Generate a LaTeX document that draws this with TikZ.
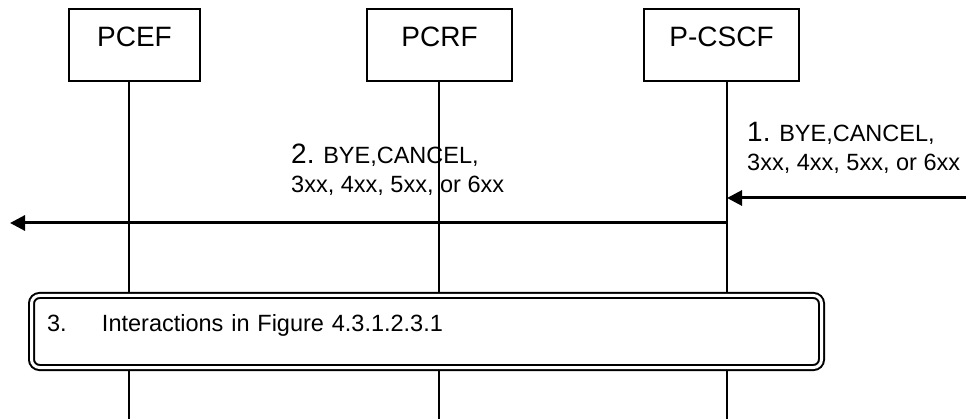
\documentclass[tikz,border=0pt]{standalone}
\usepackage{fontspec}
\setmainfont{Liberation Sans}
\usetikzlibrary{arrows.meta}

\begin{document}
\begin{tikzpicture}[x=1pt,y=-1pt,
  entity/.style={draw,line width=1.3pt,minimum height=72pt,inner sep=0pt,
    text height=38pt,text depth=34pt,font=\fontsize{28}{30}\selectfont},
  life/.style={line width=1.3pt},
  msg/.style={line width=3pt,-{Triangle[length=15pt,width=15pt]}},
  lbl/.style={anchor=base west,align=left,inner sep=0pt,font=\fontsize{23.5}{29}\selectfont},
  procbox/.style={draw,double,double distance=3pt,line width=2pt,rounded corners=8pt,
    fill=white,minimum width=790pt,minimum height=72pt,text width=759pt,align=left,
    inner xsep=15.5pt,inner ysep=4pt,text height=32.5pt,text depth=31.5pt,
    font=\fontsize{23.5}{28}\selectfont}]
\path[use as bounding box] (0,0) rectangle (966,419);
% entities
\node[entity,minimum width=131pt] (pcef) at (134.5,45) {PCEF};
\node[entity,minimum width=145pt] (pcrf) at (439.5,45) {PCRF};
\node[entity,minimum width=155pt] (pcscf) at (721.5,45) {P-CSCF};
% lifelines
\coordinate (pcefL) at (129,81);
\coordinate (pcrfL) at (439,81);
\coordinate (pcscfL) at (727,81);
\draw[life] (pcefL) -- ++(0,338);
\draw[life] (pcrfL) -- ++(0,338);
\draw[life] (pcscfL) -- ++(0,338);
% step 3
\node[procbox] (interact) at (426.5,331.5) {\makebox[55pt][l]{3.}Interactions in Figure 4.3.1.2.3.1};
% messages
\coordinate (in1) at (966,198);
\coordinate (out2) at (10,223);
\draw[msg] (in1) -- (in1 -| pcscfL);
\draw[msg] (out2 -| pcscfL) -- (out2);
\node[lbl] (bye1) at (747,171) {{\fontsize{28}{29}\selectfont 1.} BYE,CANCEL,\\3xx, 4xx, 5xx, or 6xx};
\node[lbl] (bye2) at (291,193) {{\fontsize{28}{29}\selectfont 2.} BYE,CANCEL,\\3xx, 4xx, 5xx, or 6xx};
\end{tikzpicture}
\end{document}
